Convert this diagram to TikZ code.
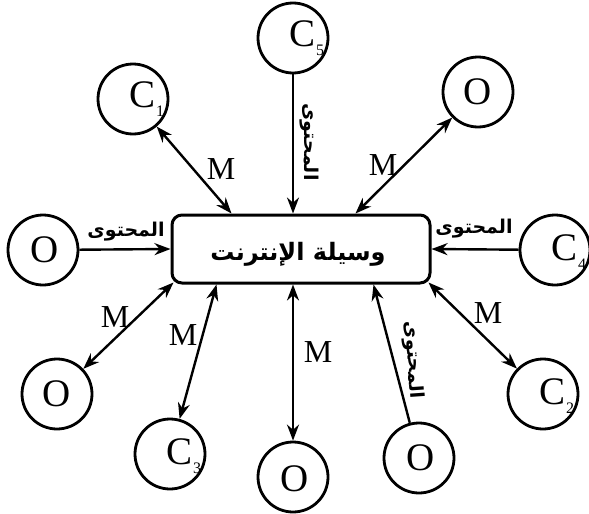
\documentclass[tikz,border=0pt]{standalone}
\usepackage{fontspec}
\setmainfont{Liberation Serif}
\newfontfamily\arabicfont[Script=Arabic]{DejaVu Sans}
\TeXXeTstate=1
\usetikzlibrary{arrows.meta}
\begin{document}
\begin{tikzpicture}[x=1pt,y=-1pt,
  >={Stealth[length=16pt,width=12pt]},
  circ/.style={circle,draw,line width=2.8pt,minimum size=70pt,inner sep=0pt},
  letter/.style={font=\fontsize{39}{39}\selectfont,inner sep=0pt},
  mlab/.style={font=\fontsize{32}{32}\selectfont,inner sep=0pt},
  ar/.style={font=\arabicfont\bfseries\fontsize{19}{19}\selectfont,inner sep=0pt},
  conn/.style={line width=2.4pt},
  one/.style={conn,->},
  two/.style={conn,<->},
]
\useasboundingbox[fill=white] (0,0) rectangle (589,514);

% central box
\node[draw,line width=3pt,rounded corners=10pt,minimum width=258pt,minimum height=68pt,inner sep=0pt] (box) at (301,249) {};
\node[font=\arabicfont\bfseries\fontsize{24}{24}\selectfont,inner sep=0pt] (boxt) at (298,254) {\beginR وسيلة الإنترنت\endR};

% circles
\node[circ] (c5) at (293,38) {};
\node[circ] (c1) at (133,99) {};
\node[circ] (otr) at (478,92) {};
\node[circ] (ol) at (43,250) {};
\node[circ] (c4) at (555,250) {};
\node[circ] (oll) at (57,394) {};
\node[circ] (c3) at (170,454) {};
\node[circ] (ob) at (293,477) {};
\node[circ] (obr) at (419,458) {};
\node[circ] (c2) at (543,394) {};

% letters
\node[letter] (c5t) at (307,38) {C\raisebox{-9pt}{\fontsize{16}{16}\selectfont 5}};
\node[letter] (c1t) at (147,99) {C\raisebox{-9pt}{\fontsize{16}{16}\selectfont 1}};
\node[letter] (c4t) at (569,252) {C\raisebox{-9pt}{\fontsize{16}{16}\selectfont 4}};
\node[letter] (c3t) at (184,456) {C\raisebox{-9pt}{\fontsize{16}{16}\selectfont 3}};
\node[letter] (c2t) at (557,396) {C\raisebox{-9pt}{\fontsize{16}{16}\selectfont 2}};
\node[letter] (otrt) at (478,92) {O};
\node[letter] (olt) at (45,250) {O};
\node[letter] (ollt) at (57,394) {O};
\node[letter] (obt) at (295,479) {O};
\node[letter] (obrt) at (421,458) {O};

% connectors
\draw[two] (c1) -- ([xshift=61pt]box.north west);
\draw[one] (c5) -- (c5 |- box.north);
\draw[two] (otr) -- ([xshift=185pt]box.north west);
\draw[one] (ol) -- (box.west);
\draw[one] (c4) -- (box.east);
\draw[two] ([xshift=3pt,yshift=2pt]box.south west) -- (oll);
\draw[two] ([xshift=46pt]box.south west) -- (c3);
\draw[two] (box.south -| ob) -- (ob);
\draw[one] (obr) -- ([xshift=203pt]box.south west);
\draw[two] ([xshift=-3pt,yshift=2pt]box.south east) -- (c2);

% labels
\node[mlab] (m1) at (221,169) {M};
\node[mlab] (m2) at (383,165) {M};
\node[mlab] (m3) at (115,317) {M};
\node[mlab] (m4) at (183,335) {M};
\node[mlab] (m5) at (318,352) {M};
\node[mlab] (m6) at (488,313) {M};
\node[ar] (a1) at (126,232) {\beginR المحتوى\endR};
\node[ar] (a2) at (474,229) {\beginR المحتوى\endR};
\node[ar,rotate=-90] (a3) at (309,142) {\beginR المحتوى\endR};
\node[ar,rotate=-86] (a4) at (413,360) {\beginR المحتوى\endR};
\end{tikzpicture}
\end{document}
